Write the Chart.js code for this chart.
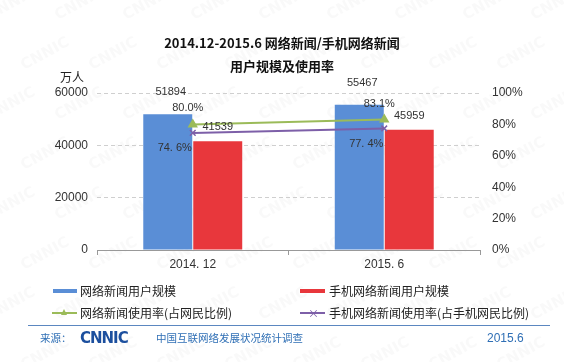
<!DOCTYPE html>
<html>
<head>
<meta charset="utf-8">
<script src="https://cdn.jsdelivr.net/npm/chart.js@4"></script>
<style>
  html, body { margin: 0; padding: 0; background: #fff; }
  #wrap { position: relative; width: 564px; height: 362px; overflow: hidden;
          font-family: "Noto Sans CJK SC", "Liberation Sans", sans-serif; color: #222; }
  #chart { position: absolute; left: 0; top: 0; }
  .txt { position: absolute; white-space: nowrap; transform: translateY(-50%); line-height: 1; }
  .title { left: 0; width: 564px; text-align: center; font-weight: bold; font-size: 13px; color: #111; }
  .leg { font-size: 12px; color: #222; }
  .sw { position: absolute; }
  .foot { font-size: 10.5px; color: #2f6fb5; }
</style>
</head>
<body>
<div id="wrap">
  <canvas id="chart" width="564" height="362"></canvas>

  <div class="txt title" style="top:42px">2014.12-2015.6 网络新闻/手机网络新闻</div>
  <div class="txt title" style="top:65px">用户规模及使用率</div>
  <div class="txt" style="left:60px;top:77px;font-size:12px">万人</div>

  <!-- legend -->
  <div class="sw" style="left:53px;top:289px;width:24px;height:4px;background:#5a8ed6"></div>
  <div class="txt leg" style="left:80px;top:291px">网络新闻用户规模</div>
  <div class="sw" style="left:300px;top:289px;width:25px;height:4px;background:#e8373c"></div>
  <div class="txt leg" style="left:329px;top:291px">手机网络新闻用户规模</div>

  <div class="sw" style="left:52px;top:312px;width:25px;height:2px;background:#9bbb59"></div>
  <div class="sw" style="left:61px;top:309px;width:0;height:0;border-left:3.5px solid transparent;border-right:3.5px solid transparent;border-bottom:6px solid #9bbb59"></div>
  <div class="txt leg" style="left:80px;top:313px">网络新闻使用率(占网民比例)</div>
  <div class="sw" style="left:300px;top:312px;width:25px;height:2px;background:#7d5fa8"></div>
  <div class="txt" style="left:308px;top:313px;font-size:11px;color:#7d5fa8">×</div>
  <div class="txt leg" style="left:329px;top:313px">手机网络新闻使用率(占手机网民比例)</div>

  <!-- footer -->
  <div class="sw" style="left:28px;top:325px;width:522px;height:1px;background:#5b87c0"></div>
  <div class="txt foot" style="left:40px;top:338px">来源：</div>
  <div class="txt" style="left:80px;top:338px;font-family:'DejaVu Sans';font-weight:bold;font-size:15px;letter-spacing:-1px;color:#1c4f9e">CNNIC</div>
  <div class="txt foot" style="left:156px;top:338px">中国互联网络发展状况统计调查</div>
  <div class="txt foot" style="left:487px;top:338px;font-family:'Liberation Sans';font-size:12px">2015.6</div>
</div>

<script>
// Chart data
const categories = ['2014. 12', '2015. 6'];
const newsUsers = [51894, 55467];        // 网络新闻用户规模 (万人)
const mobileNewsUsers = [41539, 45959];  // 手机网络新闻用户规模 (万人)
const newsRate = [80.0, 83.1];           // 网络新闻使用率 (%)
const mobileNewsRate = [74.6, 77.4];     // 手机网络新闻使用率 (%)
const leftTicks = [0, 20000, 40000, 60000];
const rightTicks = [0, 20, 40, 60, 80, 100];

const blue = '#5a8ed6';
const red = '#e8373c';
const green = '#9bbb59';
const purple = '#7d5fa8';

// label style per dataset: offset from the element and text format
const labelStyle = [
    { dx: 3, dy: -22, fmt: v => String(v) },
    { dx: 0, dy: -14, fmt: v => String(v) },
    { dx: -5, dy: -16, fmt: v => v.toFixed(1) + '%' },
    { dx: -18, dy: 15, fmt: v => v.toFixed(1).replace('.', '. ') + '%' }
];

// faint watermark in the background
const watermark = {
    id: 'watermark',
    beforeDraw(chart) {
        const ctx = chart.ctx;
        ctx.save();
        ctx.font = 'bold 15px "DejaVu Sans"';
        ctx.fillStyle = 'rgba(120,120,120,0.045)';
        for (let row = 0; row < 8; row++) {
            for (let col = 0; col < 10; col++) {
                const x = col * 68 + (row % 2) * 34 - 10;
                const y = row * 50 + 20;
                ctx.save();
                ctx.translate(x, y);
                ctx.rotate(-0.5);
                ctx.fillText('CNNIC', 0, 0);
                ctx.restore();
            }
        }
        ctx.restore();
    }
};

// value labels next to bars and points
const valueLabels = {
    id: 'valueLabels',
    afterDatasetsDraw(chart) {
        const ctx = chart.ctx;
        ctx.save();
        ctx.font = '11px "Liberation Sans"';
        ctx.fillStyle = '#333';
        ctx.textAlign = 'center';
        ctx.textBaseline = 'middle';
        chart.data.datasets.forEach((ds, i) => {
            const st = labelStyle[i];
            chart.getDatasetMeta(i).data.forEach((el, j) => {
                ctx.fillText(st.fmt(ds.data[j]), el.x + st.dx, el.y + st.dy);
            });
        });
        ctx.restore();
    }
};

new Chart(document.getElementById('chart'), {
    data: {
        labels: categories,
        datasets: [
            {
                type: 'bar', label: '网络新闻用户规模', data: newsUsers,
                backgroundColor: blue, yAxisID: 'y', order: 2,
                categoryPercentage: 0.522, barPercentage: 0.98
            },
            {
                type: 'bar', label: '手机网络新闻用户规模', data: mobileNewsUsers,
                backgroundColor: red, yAxisID: 'y', order: 2,
                categoryPercentage: 0.522, barPercentage: 0.98
            },
            {
                type: 'line', label: '网络新闻使用率(占网民比例)', data: newsRate,
                borderColor: green, backgroundColor: green, borderWidth: 2,
                pointStyle: 'triangle', pointRadius: 4, yAxisID: 'y1', order: 1
            },
            {
                type: 'line', label: '手机网络新闻使用率(占手机网民比例)', data: mobileNewsRate,
                borderColor: purple, backgroundColor: purple, borderWidth: 2,
                pointStyle: 'crossRot', pointRadius: 4, pointBorderWidth: 1.5,
                yAxisID: 'y1', order: 1
            }
        ]
    },
    options: {
        responsive: false,
        animation: false,
        layout: { padding: { top: 93, left: 0, right: 0, bottom: 92 } },
        plugins: {
            legend: { display: false },
            tooltip: { enabled: false }
        },
        scales: {
            x: {
                offset: true,
                afterFit: s => { s.height = 20; },
                grid: { offset: true, drawOnChartArea: false, drawTicks: true, tickLength: 5, color: '#999' },
                border: { color: '#999' },
                ticks: { font: { family: 'Liberation Sans', size: 12 }, color: '#333', padding: 2 }
            },
            y: {
                position: 'left',
                min: 0, max: 60000,
                afterFit: s => { s.width = 97; },
                afterBuildTicks: s => { s.ticks = leftTicks.map(v => ({ value: v })); },
                grid: {
                    drawTicks: false,
                    color: c => c.tick && c.tick.value === 0 ? 'rgba(0,0,0,0)' : '#cfcfcf'
                },
                border: { display: false, dash: [4, 3] },
                ticks: {
                    font: { family: 'Liberation Sans', size: 12 }, color: '#333', padding: 9,
                    callback: v => String(v)
                }
            },
            y1: {
                position: 'right',
                min: 0, max: 100,
                afterFit: s => { s.width = 84; },
                afterBuildTicks: s => { s.ticks = rightTicks.map(v => ({ value: v })); },
                grid: { drawOnChartArea: false, drawTicks: false },
                border: { display: false },
                ticks: {
                    font: { family: 'Liberation Sans', size: 12 }, color: '#333', padding: 12,
                    callback: v => v + '%'
                }
            }
        }
    },
    plugins: [watermark, valueLabels]
});
</script>
</body>
</html>
